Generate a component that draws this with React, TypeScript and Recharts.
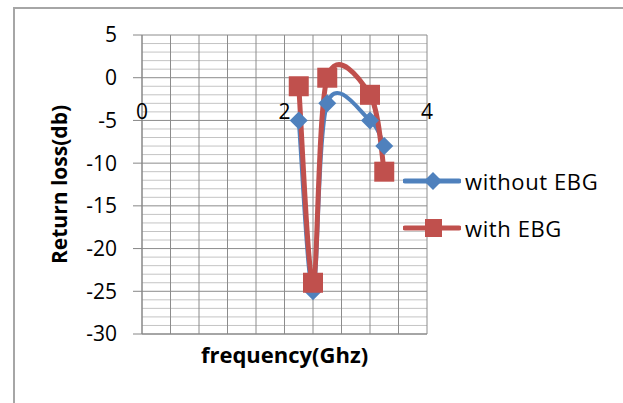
import React from 'react';
import {
  LineChart,
  Line,
  XAxis,
  YAxis,
  ReferenceLine,
  ReferenceDot,
  Legend,
} from 'recharts';

// frequency (GHz) and return loss (dB)
const frequency = [2.2, 2.4, 2.6, 3.2, 3.4];
const withoutEbg = [-5, -25, -3, -5, -8];
const withEbg = [-1, -24, 0, -2, -11];

const yTicks = [-30, -25, -20, -15, -10, -5, 0, 5];
const yMinorTicks = Array.from({ length: 36 }, (_, i) => i - 30).filter((v) => v % 5 !== 0);
const xGridTicks = [0, 0.4, 0.8, 1.2, 1.6, 2, 2.4, 2.8, 3.2, 3.6, 4];
const xLabelTicks = [0, 2, 4];
const xLabelRow = -5;

const BLUE = '#4F81BD';
const RED = '#C0504D';
const FONT = '"Open Sans", sans-serif';

const data = frequency.map((f, i) => ({
  f,
  without: withoutEbg[i],
  with: withEbg[i],
}));

// excel-like smoothed line (catmull-rom as bezier)
const smoothCurve = (context: any) => {
  let pts: number[][] = [];
  return {
    areaStart() {},
    areaEnd() {},
    lineStart() {
      pts = [];
    },
    point(x: number, y: number) {
      pts.push([+x, +y]);
    },
    lineEnd() {
      if (!pts.length) return;
      context.moveTo(pts[0][0], pts[0][1]);
      const t = 1 / 6;
      for (let i = 0; i < pts.length - 1; i++) {
        const p0 = pts[i - 1] || pts[i];
        const p1 = pts[i];
        const p2 = pts[i + 1];
        const p3 = pts[i + 2] || p2;
        context.bezierCurveTo(
          p1[0] + (p2[0] - p0[0]) * t,
          p1[1] + (p2[1] - p0[1]) * t,
          p2[0] - (p3[0] - p1[0]) * t,
          p2[1] - (p3[1] - p1[1]) * t,
          p2[0],
          p2[1]
        );
      }
    },
  };
};

const DiamondDot = (props: any) => {
  const { cx, cy } = props;
  if (cx == null || cy == null) return null;
  const s = 9;
  return (
    <polygon
      points={`${cx},${cy - s} ${cx + s},${cy} ${cx},${cy + s} ${cx - s},${cy}`}
      fill={BLUE}
    />
  );
};

const SquareDot = (props: any) => {
  const { cx, cy } = props;
  if (cx == null || cy == null) return null;
  const s = 10;
  return <rect x={cx - s} y={cy - s} width={s * 2} height={s * 2} fill={RED} />;
};

const legendItems = [
  { name: 'without EBG', color: BLUE, shape: 'diamond' },
  { name: 'with EBG', color: RED, shape: 'square' },
];

const renderLegend = () => (
  <div style={{ fontFamily: FONT, fontSize: 22, letterSpacing: 0.6, color: '#000' }}>
    {legendItems.map((item) => (
      <div
        key={item.name}
        style={{ display: 'flex', alignItems: 'center', height: 47 }}
      >
        <svg width={58} height={24} style={{ marginRight: 4 }}>
          <line x1={2} y1={12} x2={56} y2={12} stroke={item.color} strokeWidth={5} strokeLinecap="round" />
          {item.shape === 'diamond' ? (
            <polygon points="30,3 39,12 30,21 21,12" fill={item.color} />
          ) : (
            <rect x={22} y={3} width={17} height={18} fill={item.color} />
          )}
        </svg>
        <span>{item.name}</span>
      </div>
    ))}
  </div>
);

export default function App() {
  return (
    <div
      style={{
        position: 'absolute',
        left: 0,
        top: 0,
        width: 623,
        height: 403,
        background: '#fff',
        overflow: 'hidden',
      }}
    >
      <div
        style={{
          position: 'absolute',
          left: 13,
          top: 7,
          width: 640,
          height: 420,
          borderLeft: '2px solid #a6a6a6',
          borderTop: '2px solid #a6a6a6',
        }}
      />
      <div style={{ position: 'absolute', left: 0, top: 0 }}>
        <LineChart
          width={623}
          height={403}
          data={data}
          margin={{ top: 35, right: 196, left: 0, bottom: 59 }}
        >
          <XAxis
            dataKey="f"
            type="number"
            domain={[0, 4]}
            ticks={xGridTicks}
            tick={false}
            tickLine={false}
            height={10}
            axisLine={{ stroke: '#868686' }}
            label={{
              value: 'frequency(Ghz)',
              position: 'bottom',
              offset: 3,
              style: { fontFamily: FONT, fontSize: 22, fontWeight: 700, fill: '#000' },
            }}
          />
          <YAxis
            type="number"
            domain={[-30, 5]}
            ticks={yTicks}
            interval={0}
            width={142}
            tickSize={9}
            tickMargin={16}
            axisLine={{ stroke: '#868686' }}
            tickLine={{ stroke: '#868686' }}
            tick={{ fontFamily: FONT, fontSize: 21, fill: '#000' }}
            label={{
              value: 'Return loss(db)',
              angle: -90,
              position: 'insideLeft',
              offset: 60,
              style: { fontFamily: FONT, fontSize: 21, fontWeight: 700, fill: '#000', textAnchor: 'middle' },
            }}
          />
          {yMinorTicks.map((v) => (
            <ReferenceLine key={`my${v}`} y={v} stroke="#c4c4c4" />
          ))}
          {yTicks.map((v) => (
            <ReferenceLine key={`y${v}`} y={v} stroke="#8c8c8c" />
          ))}
          {xGridTicks.map((v) => (
            <ReferenceLine key={`x${v}`} x={v} stroke="#8c8c8c" />
          ))}
          {xLabelTicks.map((v) => (
            <ReferenceDot
              key={v}
              x={v}
              y={xLabelRow}
              r={0}
              fill="none"
              stroke="none"
              ifOverflow="visible"
              label={{
                value: String(v),
                position: 'top',
                offset: 1,
                style: { fontFamily: FONT, fontSize: 21, fill: '#000' },
              }}
            />
          ))}
          <Line
            dataKey="without"
            name="without EBG"
            type={smoothCurve as any}
            stroke={BLUE}
            strokeWidth={4}
            dot={<DiamondDot />}
            activeDot={false}
            isAnimationActive={false}
          />
          <Line
            dataKey="with"
            name="with EBG"
            type={smoothCurve as any}
            stroke={RED}
            strokeWidth={5}
            dot={<SquareDot />}
            activeDot={false}
            isAnimationActive={false}
          />
          <Legend
            layout="vertical"
            align="center"
            verticalAlign="middle"
            content={renderLegend}
            wrapperStyle={{ left: 403, top: 157, width: 220 }}
          />
        </LineChart>
      </div>
    </div>
  );
}
